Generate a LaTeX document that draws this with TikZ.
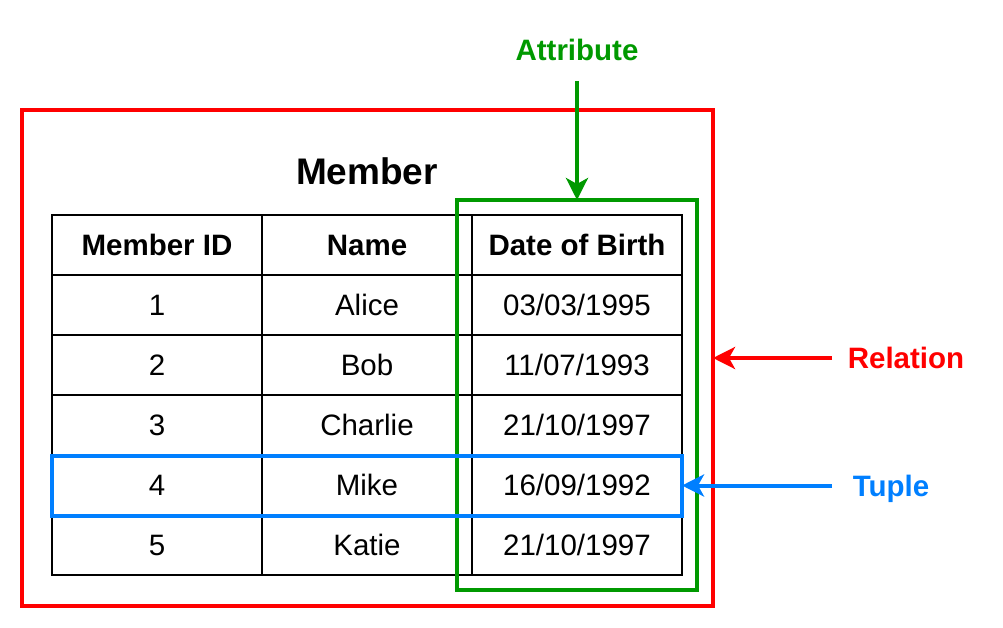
\documentclass[tikz,border=0pt]{standalone}
\usepackage{fontspec}
\setmainfont{Liberation Sans}
\usetikzlibrary{matrix,arrows.meta}

\definecolor{relred}{HTML}{FF0000}
\definecolor{attgreen}{HTML}{009900}
\definecolor{tupblue}{HTML}{007FFF}

\tikzset{
    cell/.style={draw=black,line width=1.3pt,minimum width=210pt,minimum height=60pt,inner sep=0,anchor=center},
    headcell/.style={cell,font=\fontsize{29.5}{34}\selectfont\bfseries},
    bodycell/.style={cell,font=\fontsize{29.5}{34}\selectfont},
    outline/.style={draw,line width=4pt,inner sep=0,outer sep=0},
    pointer/.style={line width=4pt,-{Stealth[length=22pt,width=22pt,inset=6pt]}},
    tag/.style={font=\fontsize{29.5}{34}\selectfont\bfseries,inner sep=0,anchor=base}
}

\begin{document}
\begin{tikzpicture}[x=1pt,y=-1pt]
    \useasboundingbox (0,0) rectangle (1003,628);
    % \pgfmathsetmacro{\rowheight}{60}
    \node[outline,draw=relred,minimum width=691pt,minimum height=496pt] (relation) at (367.5,358) {};
    \node[font=\fontsize{37}{42}\selectfont\bfseries,inner sep=0] (title) at (367,171) {Member};
    \matrix (member) [matrix of nodes,column sep=-1.3pt,row sep=-1.3pt,nodes={bodycell}] at (367,395)
    {
        |[headcell]| Member ID & |[headcell]| Name & |[headcell]| Date of Birth \\
        1 & Alice & 03/03/1995 \\
        2 & Bob & 11/07/1993 \\
        3 & Charlie & 21/10/1997 \\
        4 & Mike & 16/09/1992 \\
        5 & Katie & 21/10/1997 \\
    };
    \node[outline,draw=attgreen,minimum width=240pt,minimum height=390pt] (attribute) at (577,395) {};
    \node[outline,draw=tupblue,minimum width=630pt,minimum height=60pt] (tuple) at (367,485.5) {};
    \node[tag,text=attgreen] (attlabel) at (577,61) {Attribute};
    \node[tag,text=relred] (rellabel) at (906,368.5) {Relation};
    \node[tag,text=tupblue] (tuplabel) at (891,496) {Tuple};
    \coordinate (attstart) at (577,81);
    \coordinate (relstart) at (832,358);
    \coordinate (tupstart) at (832,485.5);
    \draw[pointer,attgreen] (attstart) -- (attribute.north);
    \draw[pointer,relred] (relstart) -- (relation.east);
    \draw[pointer,tupblue] (tupstart) -- (tuple.east);
\end{tikzpicture}
\end{document}
